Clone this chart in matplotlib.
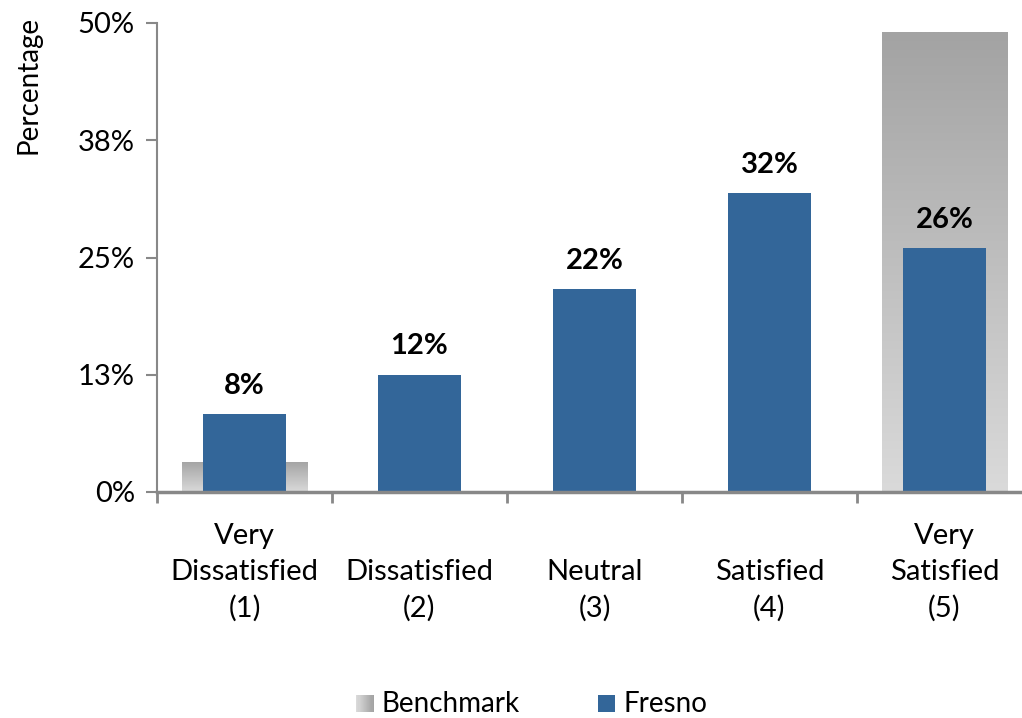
import matplotlib
matplotlib.use("Agg")
import matplotlib.pyplot as plt
import numpy as np
from matplotlib.patches import Rectangle
from matplotlib.legend_handler import HandlerBase
from matplotlib.colors import LinearSegmentedColormap

plt.rcParams['font.family'] = ['Lato', 'DejaVu Sans']

categories = ["Very\nDissatisfied\n(1)", "\nDissatisfied\n(2)", "\nNeutral\n(3)",
              "\nSatisfied\n(4)", "Very\nSatisfied\n(5)"]
benchmark = [3.2, 0.0, 0.0, 0.0, 49.0]
fresno = [8.3, 12.5, 21.6, 31.9, 26.0]
fresno_labels = ["8%", "12%", "22%", "32%", "26%"]
yticks = [0, 12.5, 25, 37.5, 50]
ytick_labels = ["0%", "13%", "25%", "38%", "50%"]

blue = "#336699"
axis_gray = "#888888"
grad_cmap = LinearSegmentedColormap.from_list("g", ["#dadada", "#a3a3a3"])

fig = plt.figure(figsize=(10.22, 7.18), dpi=100)
ax = fig.add_axes([157/1022, 226/718, 875/1022, 469/718])

x = np.arange(len(categories))

# benchmark bars with vertical gradient
bbars = ax.bar(x, benchmark, width=0.72, color="none", edgecolor="none", zorder=1)
grad = np.linspace(0, 1, 256).reshape(-1, 1)
for b in bbars:
    h = b.get_height()
    if h <= 0:
        continue
    x0 = b.get_x(); w = b.get_width()
    im = ax.imshow(grad, cmap=grad_cmap, aspect="auto", origin="lower",
                   extent=(x0, x0 + w, 0, h), zorder=1, interpolation="bilinear")
    im.set_clip_path(b)
ax.set_xlim(-0.5, len(categories) - 0.5)
ax.set_ylim(0, 50)

fbars = ax.bar(x, fresno, width=0.47, color=blue, zorder=2)
for xi, v, lab in zip(x, fresno, fresno_labels):
    ax.annotate(lab, (xi, v), xytext=(0, 11), textcoords="offset points",
                ha="center", va="bottom", fontsize=21, fontweight="bold", color="black")

ax.set_yticks(yticks)
ax.set_yticklabels(ytick_labels, fontsize=21)
ax.set_xticks(x)
ax.set_xticklabels(categories, fontsize=21, linespacing=1.48)
ax.tick_params(axis="x", length=0, pad=22)
ax.set_xticks(np.arange(-0.5, len(categories) + 0.5, 1), minor=True)
ax.tick_params(axis="x", which="minor", length=8, color=axis_gray, width=2)
ax.tick_params(axis="y", length=8, color=axis_gray, width=1.5, pad=8)

for s in ["top", "right"]:
    ax.spines[s].set_visible(False)
for s in ["left", "bottom"]:
    ax.spines[s].set_color(axis_gray)
ax.spines["left"].set_linewidth(1.5)
ax.spines["bottom"].set_linewidth(2.5)

fig.text(28/1022, 1 - 85/718, "Percentage", rotation=90, ha="center", va="center", fontsize=20)

SQ = 12.5  # legend square side, points


class GradHandler(HandlerBase):
    def create_artists(self, legend, orig_handle, xdescent, ydescent, width, height, fontsize, trans):
        arts = []
        n = 16
        x0 = xdescent + width - SQ
        y0 = -ydescent + (height - SQ) / 2 - 1
        for i in range(n):
            c = grad_cmap(i / (n - 1))
            arts.append(Rectangle((x0 + SQ * i / n, y0), SQ / n + 0.15, SQ,
                                  facecolor=c, edgecolor="none", transform=trans))
        return arts


class SquareHandler(HandlerBase):
    def create_artists(self, legend, orig_handle, xdescent, ydescent, width, height, fontsize, trans):
        y0 = -ydescent + (height - SQ) / 2 - 1
        return [Rectangle((xdescent + width - SQ, y0), SQ, SQ,
                          facecolor=blue, edgecolor="none", transform=trans)]


h1 = Rectangle((0, 0), 1, 1)
h2 = Rectangle((0, 1), 1, 1)
fig.legend([h1, h2], ["Benchmark", "Fresno"], loc="center", bbox_to_anchor=(0.5205, 1 - 704/718),
           ncol=2, frameon=False, fontsize=20, handler_map={h1: GradHandler(), h2: SquareHandler()},
           handlelength=0.62, handletextpad=0.3, columnspacing=2.8)

fig.savefig("out.png", dpi=100)
